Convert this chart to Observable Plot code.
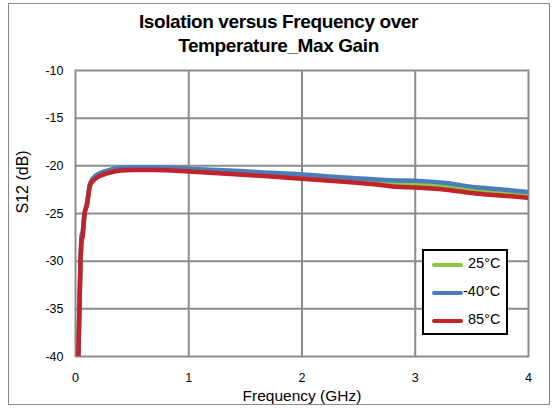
<!DOCTYPE html>
<html>
<head>
<meta charset="utf-8">
<script src="https://cdn.jsdelivr.net/npm/d3@7"></script>
<script src="https://cdn.jsdelivr.net/npm/@observablehq/plot@0.6"></script>
<style>
  html, body { margin: 0; padding: 0; background: #fff; }
  #wrap { position: relative; width: 558px; height: 408px; font-family: "Liberation Sans", Arial, sans-serif; }
  #border { position: absolute; left: 8px; top: 3px; width: 540px; height: 400px; border: 1px solid #8a8a8a; box-sizing: content-box; pointer-events: none; }
  #title { position: absolute; left: 8px; width: 541px; top: 10px; text-align: center; font-weight: bold; font-size: 19px; line-height: 24px; color: #000; letter-spacing: -0.4px; }
  #legend { position: absolute; left: 422px; top: 249px; width: 82px; height: 82px; border: 2px solid #000; background: #fff; }
  .row { position: absolute; left: 0; height: 20px; width: 82px; }
  .sw { position: absolute; left: 8px; width: 31px; height: 4px; border-radius: 2px; }
  .lab { position: absolute; left: 44px; font-size: 14.5px; color: #000; }
</style>
</head>
<body>
<div id="wrap">
  <div id="chart"></div>
  <div id="title">Isolation versus Frequency over<br>Temperature_Max Gain</div>
  <div id="legend"></div>
  <div id="border"></div>
</div>
<script>
// Frequency (GHz)
const freq = [0.025, 0.044, 0.055, 0.062, 0.08, 0.1, 0.13, 0.18, 0.28, 0.4, 0.5, 0.7, 1.0, 1.3, 1.63, 2.0, 2.34, 2.69, 2.83, 3.0, 3.27, 3.53, 3.75, 4.0];
// S12 (dB) per temperature
const s12_25C  = [-40, -30, -27.5, -27.3, -25, -24.1, -21.9, -21.15, -20.65, -20.35, -20.3, -20.3, -20.4, -20.6, -20.85, -21.1, -21.45, -21.7, -21.82, -21.87, -22.15, -22.55, -22.75, -23.0];
const s12_m40C = [-40, -30, -27.2, -27.0, -25, -24.0, -21.8, -21.0, -20.5, -20.2, -20.15, -20.15, -20.3, -20.45, -20.67, -20.9, -21.2, -21.46, -21.53, -21.57, -21.8, -22.25, -22.45, -22.75];
const s12_85C  = [-40, -30, -27.8, -27.5, -25, -24.2, -22.0, -21.3, -20.8, -20.5, -20.45, -20.45, -20.6, -20.8, -21.05, -21.35, -21.65, -22.0, -22.2, -22.27, -22.5, -22.9, -23.1, -23.35];
const seriesNames = ["25°C", "-40°C", "85°C"];
const seriesColors = ["#8dc63f", "#4a7ebb", "#c1232b"];
const xTicks = [0, 1, 2, 3, 4];
const yTicks = [-40, -35, -30, -25, -20, -15, -10];
const xLabel = "Frequency (GHz)";
const yLabel = "S12 (dB)";

const seriesValues = [s12_25C, s12_m40C, s12_85C];
const data = [];
seriesNames.forEach((name, i) => {
  freq.forEach((f, j) => data.push({series: name, f, v: seriesValues[i][j]}));
});

const fmt = d => String(d);

const chart = Plot.plot({
  width: 558,
  height: 408,
  marginLeft: 75,
  marginRight: 30,
  marginTop: 70,
  marginBottom: 52,
  style: {fontFamily: "'Liberation Sans', Arial, sans-serif", fontSize: "12.5px", color: "#000", background: "transparent"},
  x: {domain: [0, 4]},
  y: {domain: [-40, -10]},
  color: {domain: seriesNames, range: seriesColors},
  marks: [
    Plot.gridX([1, 2, 3], {stroke: "#8c8c8c", strokeOpacity: 1, strokeWidth: 2}),
    Plot.gridY([-35, -30, -25, -20, -15], {stroke: "#8c8c8c", strokeOpacity: 1, strokeWidth: 2}),
    Plot.frame({stroke: "#8c8c8c", strokeWidth: 2}),
    Plot.axisX(xTicks, {tickSize: 0, tickPadding: 17, tickFormat: fmt, label: null}),
    Plot.axisY(yTicks, {tickSize: 0, tickPadding: 12, tickFormat: fmt, label: null}),
    Plot.text([xLabel], {frameAnchor: "bottom", dy: 44, fontSize: 15.5, fill: "#000"}),
    Plot.text([yLabel], {frameAnchor: "left", dx: -53, rotate: -90, fontSize: 16, fill: "#000"}),
    Plot.line(data, {x: "f", y: "v", z: "series", stroke: "series", strokeWidth: 4.5, curve: "monotone-x", clip: true})
  ]
});
document.getElementById("chart").appendChild(chart);

const legend = document.getElementById("legend");
seriesNames.forEach((name, i) => {
  const row = document.createElement("div");
  row.className = "row";
  row.style.top = (4 + i * 28) + "px";
  row.innerHTML = `<div class="sw" style="top:8px;background:${seriesColors[i]}"></div><div class="lab" style="top:0px;${i === 1 ? 'left:39px;' : ''}">${name}</div>`;
  legend.appendChild(row);
});
</script>
</body>
</html>
